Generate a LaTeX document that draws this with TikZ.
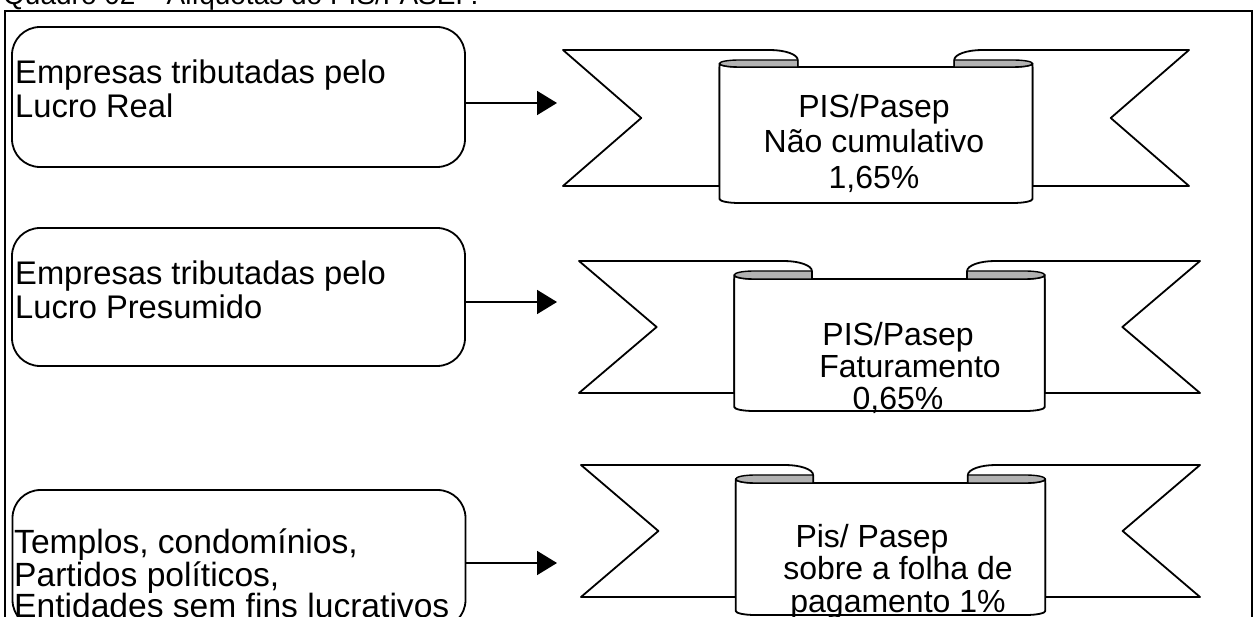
\documentclass[tikz,border=0pt]{standalone}
\usepackage{fontspec}
\setmainfont{Liberation Sans}
\usetikzlibrary{arrows.meta}

\tikzset{
  frameline/.style={line width=1.5pt},
  leftbox/.style={draw, line width=1.8pt, rounded corners=28pt, minimum width=453pt, inner sep=0pt},
  boxtext/.style={align=left, inner sep=0pt, anchor=north west, font=\fontsize{32.7}{34}\selectfont},
  ribtext/.style={align=center, inner sep=0pt, anchor=north},
  ribline/.style={draw, fill=white, line width=1.8pt, line join=round},
  curl/.style={draw, fill=black!30, line width=1.4pt, line join=round},
  conn/.style={line width=1.8pt, -{Triangle[length=20pt,width=24pt]}},
}

% #1 left, #2 right, #3 top of tails, #4 bottom of panel, #5 panel drop
\newcommand{\pisribbon}[5]{%
  \pgfmathsetmacro\RbL{#1}%
  \pgfmathsetmacro\RbR{#2}%
  \pgfmathsetmacro\RbT{#3}%
  \pgfmathsetmacro\RbB{#4}%
  \pgfmathsetmacro\RbY{#5}%
  \pgfmathsetmacro\RbW{\RbR-\RbL}%
  \pgfmathsetmacro\RbHc{(\RbL+\RbR)/2}%
  \pgfmathsetmacro\RbWe{\RbW/8}%
  \pgfmathsetmacro\RbWt{\RbW/32}%
  \pgfmathsetmacro\RbCx{28}%
  \pgfmathsetmacro\RbCy{10}%
  \pgfmathsetmacro\RbXa{\RbHc-\RbW/4}%
  \pgfmathsetmacro\RbXh{\RbHc+\RbW/4}%
  \pgfmathsetmacro\RbXb{\RbXa+\RbWt}%
  \pgfmathsetmacro\RbXg{\RbXh-\RbWt}%
  \pgfmathsetmacro\RbXd{\RbXa+\RbWe}%
  \pgfmathsetmacro\RbXe{\RbXh-\RbWe}%
  \pgfmathsetmacro\RbXc{\RbXd-\RbCx}%
  \pgfmathsetmacro\RbXf{\RbXe+\RbCx}%
  \pgfmathsetmacro\RbYa{\RbT+\RbCy}%
  \pgfmathsetmacro\RbYb{\RbT+\RbY}%
  \pgfmathsetmacro\RbYm{(\RbYa+\RbYb)/2}%
  \pgfmathsetmacro\RbH{(\RbYb-\RbYa)/2}%
  \pgfmathsetmacro\RbYd{\RbB-\RbY}%
  \pgfmathsetmacro\RbYc{(\RbT+\RbYd)/2}%
  \pgfmathsetmacro\RbKx{0.5523*\RbWt}%
  \pgfmathsetmacro\RbKy{0.5523*\RbH}%
  \pgfmathsetmacro\RbQx{0.5523*\RbCx}%
  \pgfmathsetmacro\RbQy{0.5523*\RbCy}%
  \pgfmathsetmacro\RbBh{4}%
  \pgfmathsetmacro\RbBk{0.5523*\RbBh}%
  % left tail
  \draw[ribline] (\RbL,\RbT) -- (\RbXc,\RbT) .. controls (\RbXc+\RbQx,\RbT) and (\RbXd,\RbYa-\RbQy) .. (\RbXd,\RbYa) -- (\RbXd,\RbYb) -- (\RbXa,\RbYb) -- (\RbXa,\RbYd) -- (\RbL,\RbYd) -- (\RbL+\RbWe,\RbYc) -- cycle;
  % right tail
  \draw[ribline] (\RbR,\RbT) -- (\RbXf,\RbT) .. controls (\RbXf-\RbQx,\RbT) and (\RbXe,\RbYa-\RbQy) .. (\RbXe,\RbYa) -- (\RbXe,\RbYb) -- (\RbXh,\RbYb) -- (\RbXh,\RbYd) -- (\RbR,\RbYd) -- (\RbR-\RbWe,\RbYc) -- cycle;
  % front panel
  \draw[ribline] (\RbXa,\RbYm) -- (\RbXa,\RbB-\RbBh) .. controls (\RbXa,\RbB-\RbBh+\RbBk) and (\RbXb-\RbKx,\RbB) .. (\RbXb,\RbB) -- (\RbXg,\RbB) .. controls (\RbXg+\RbKx,\RbB) and (\RbXh,\RbB-\RbBh+\RbBk) .. (\RbXh,\RbB-\RbBh) -- (\RbXh,\RbYm) .. controls (\RbXh,\RbYm+\RbKy) and (\RbXg+\RbKx,\RbYb) .. (\RbXg,\RbYb) -- (\RbXb,\RbYb) .. controls (\RbXb-\RbKx,\RbYb) and (\RbXa,\RbYm+\RbKy) .. cycle;
  % left curl
  \draw[curl] (\RbXd,\RbYa) -- (\RbXb,\RbYa) .. controls (\RbXb-\RbKx,\RbYa) and (\RbXa,\RbYm-\RbKy) .. (\RbXa,\RbYm) .. controls (\RbXa,\RbYm+\RbKy) and (\RbXb-\RbKx,\RbYb) .. (\RbXb,\RbYb) -- (\RbXd,\RbYb) -- cycle;
  % right curl
  \draw[curl] (\RbXe,\RbYa) -- (\RbXg,\RbYa) .. controls (\RbXg+\RbKx,\RbYa) and (\RbXh,\RbYm-\RbKy) .. (\RbXh,\RbYm) .. controls (\RbXh,\RbYm+\RbKy) and (\RbXg+\RbKx,\RbYb) .. (\RbXg,\RbYb) -- (\RbXe,\RbYb) -- cycle;
}

\begin{document}
\begin{tikzpicture}[x=1pt,y=-1pt]
  \useasboundingbox (0,0) rectangle (1259,617);
  \clip (0,0) rectangle (1259,617);

  % title (cut off at the top)
  \node[anchor=base west, inner sep=0pt, font=\fontsize{28}{30}\selectfont] (title) at (3,5) {Quadro 02 – Alíquotas do PIS/PASEP.};

  % outer frame
  \draw[frameline] (5,617) -- (5,11) -- (1252,11) -- (1252,617);

  % left boxes
  \node[leftbox, minimum height=140pt] (b1) at (238.5,97) {};
  \node[leftbox, minimum height=138pt] (b2) at (238.5,297) {};
  \node[leftbox, minimum height=138pt] (b3) at (239,559) {};

  \node[boxtext] (t1) at (15,59.2) {Empresas tributadas pelo\\Lucro Real};
  \node[boxtext] (t2) at (15,260.2) {Empresas tributadas pelo\\Lucro Presumido};
  \node[boxtext, font=\fontsize{33.6}{31.5}\selectfont] (t3) at (14,528.5) {Templos, condomínios,\\Partidos políticos,\\Entidades sem fins lucrativos};

  % ribbons
  \pisribbon{563}{1189}{50}{203}{17}
  \pisribbon{579}{1200}{261}{411}{18}
  \pisribbon{581}{1200}{465}{615}{18}

  \node[ribtext, font=\fontsize{32}{35.5}\selectfont] (p1) at (874,93.7) {PIS/Pasep\\Não cumulativo\\1,65\%};
  \node[ribtext, font=\fontsize{32}{32}\selectfont] (p2) at (898,321.7) {PIS/Pasep\\\hspace*{24pt}Faturamento\\0,65\%};
  \node[ribtext, font=\fontsize{32}{32.5}\selectfont] (p3) at (898,523.7) {Pis/ Pasep\hspace*{52pt}\mbox{}\\sobre a folha de\\pagamento 1\%};

  % connectors
  \coordinate (a1) at (557,103);
  \coordinate (a2) at (557,302);
  \coordinate (a3) at (557,563);
  \draw[conn] (b1.east |- a1) -- (a1);
  \draw[conn] (b2.east |- a2) -- (a2);
  \draw[conn] (b3.east |- a3) -- (a3);
\end{tikzpicture}
\end{document}
